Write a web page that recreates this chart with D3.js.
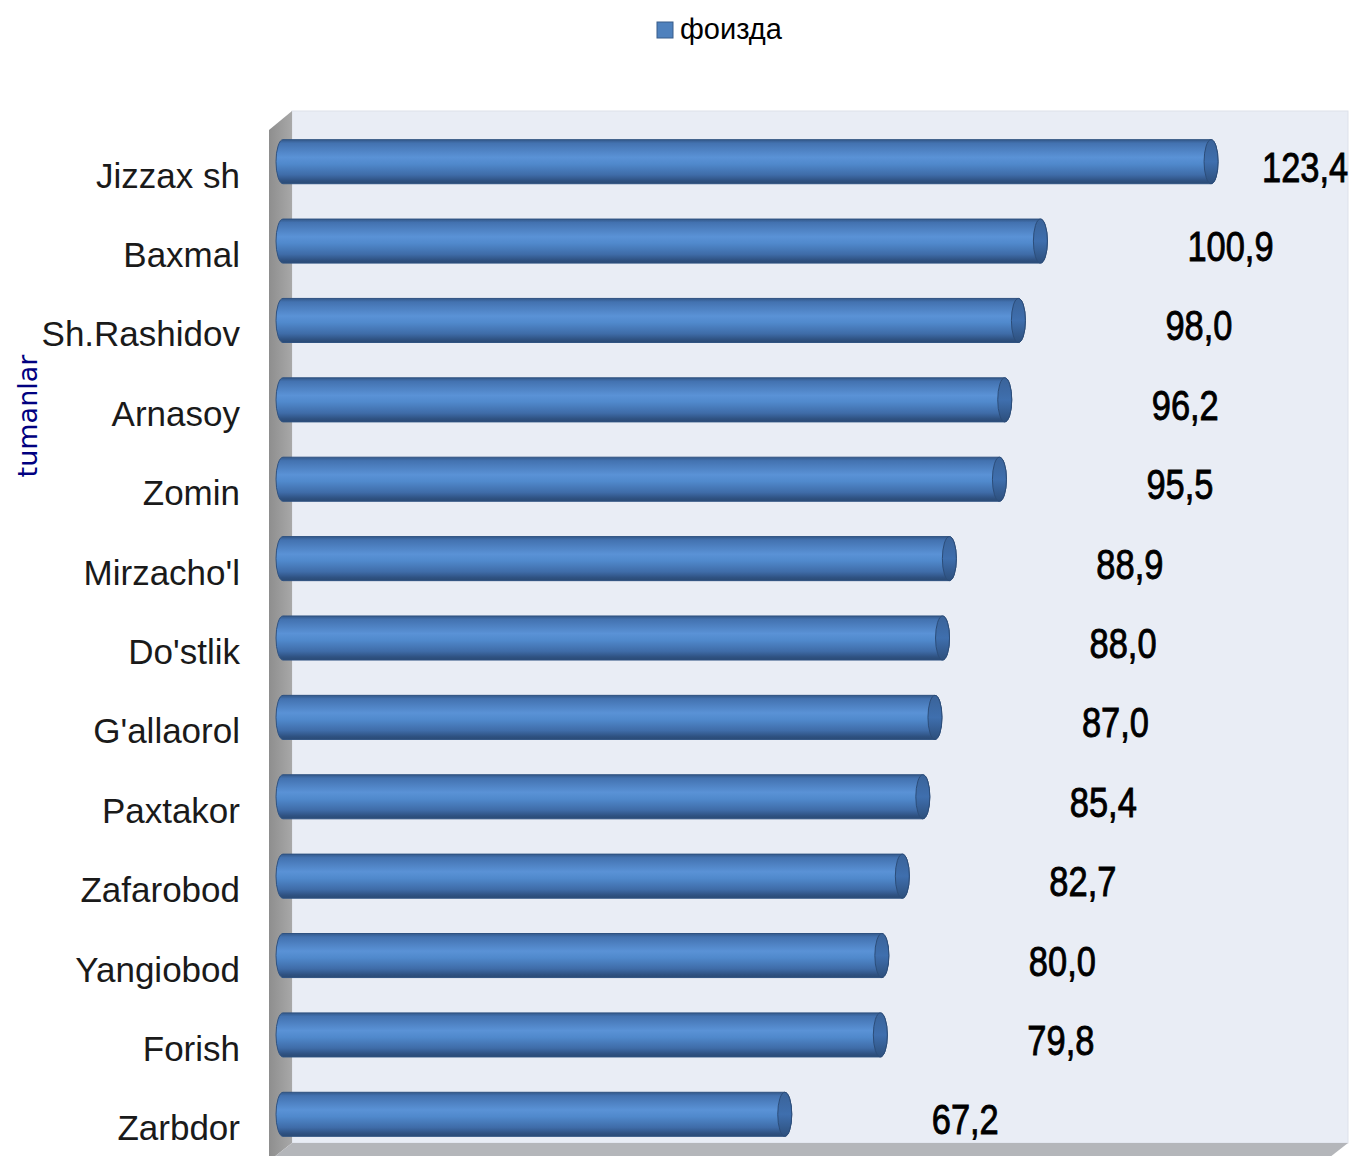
<!DOCTYPE html>
<html>
<head>
<meta charset="utf-8">
<script src="https://cdn.jsdelivr.net/npm/d3@7"></script>
<style>
  body { margin: 0; background: #fff; }
  svg { display: block; }
</style>
</head>
<body>
<div id="chart"></div>
<script>
const categories = ["Jizzax sh", "Baxmal", "Sh.Rashidov", "Arnasoy", "Zomin", "Mirzacho'l",
  "Do'stlik", "G'allaorol", "Paxtakor", "Zafarobod", "Yangiobod", "Forish", "Zarbdor"];
const values = [123.4, 100.9, 98.0, 96.2, 95.5, 88.9, 88.0, 87.0, 85.4, 82.7, 80.0, 79.8, 67.2];
const seriesName = "фоизда";
const axisTitle = "tumanlar";

const data = categories.map((c, i) => ({ name: c, value: values[i] }));

const width = 1353;
const height = 1156;

// wall geometry
const wall = { left: 292, right: 1348, top: 111, bottom: 1143, depth: 23, drop: 19 };

const x = d3.scaleLinear()
  .domain([0, 140])
  .range([282, 1344]);

const y = d3.scaleBand()
  .domain(categories)
  .range([122, 1154]);

const barH = y.bandwidth() * 0.555;
const capR = 7;

const svg = d3.select("#chart").append("svg")
  .attr("width", width)
  .attr("height", height)
  .attr("viewBox", [0, 0, width, height]);

const defs = svg.append("defs");

const barGrad = defs.append("linearGradient")
  .attr("id", "barGrad")
  .attr("x1", 0).attr("y1", 0).attr("x2", 0).attr("y2", 1);
[[0, "#34598a"], [0.08, "#4372b0"], [0.4, "#5a92d6"], [0.55, "#5089cc"], [0.8, "#3f6ca8"], [0.93, "#2f5282"], [1, "#2a4a74"]]
  .forEach(([o, c]) => barGrad.append("stop").attr("offset", o).attr("stop-color", c));

const capGrad = defs.append("linearGradient")
  .attr("id", "capGrad")
  .attr("x1", 0).attr("y1", 0).attr("x2", 0).attr("y2", 1);
[[0, "#3a6399"], [0.5, "#3f6fae"], [1, "#2d4f7c"]]
  .forEach(([o, c]) => capGrad.append("stop").attr("offset", o).attr("stop-color", c));

const sideGrad = defs.append("linearGradient")
  .attr("id", "sideGrad")
  .attr("x1", 0).attr("y1", 0).attr("x2", 1).attr("y2", 0);
[[0, "#8e8e8e"], [1, "#a8a8a8"]]
  .forEach(([o, c]) => sideGrad.append("stop").attr("offset", o).attr("stop-color", c));

// back wall
svg.append("rect")
  .attr("x", wall.left)
  .attr("y", wall.top)
  .attr("width", wall.right - wall.left)
  .attr("height", wall.bottom - wall.top)
  .attr("fill", "#e9edf5")
  .attr("stroke", "#dde1ea")
  .attr("stroke-width", 1);

// left side wall
svg.append("path")
  .attr("d", `M${wall.left - wall.depth},${wall.top + wall.drop} L${wall.left},${wall.top} L${wall.left},${wall.bottom} L${wall.left - wall.depth},${height + 5} Z`)
  .attr("fill", "url(#sideGrad)");

// floor
svg.append("path")
  .attr("d", `M${wall.left - wall.depth},${height + 5} L${wall.left},${wall.bottom} L${wall.right},${wall.bottom} L${wall.right - wall.depth},${height + 5} Z`)
  .attr("fill", "#b4b6ba");

// bars
const bars = svg.append("g")
  .selectAll("g")
  .data(data)
  .join("g")
  .attr("transform", d => `translate(0,${y(d.name) + y.bandwidth() / 2 - barH / 2})`);

bars.append("rect")
  .attr("x", x(0) - 6)
  .attr("y", 0)
  .attr("width", d => x(d.value) - x(0) + 6)
  .attr("height", barH)
  .attr("rx", capR)
  .attr("ry", barH / 2)
  .attr("fill", "url(#barGrad)")
  .attr("stroke", "#2f5281")
  .attr("stroke-width", 1);

bars.append("ellipse")
  .attr("cx", d => x(d.value) - capR)
  .attr("cy", barH / 2)
  .attr("rx", capR)
  .attr("ry", barH / 2)
  .attr("fill", "url(#capGrad)")
  .attr("stroke", "#2c4d79")
  .attr("stroke-width", 1);

// value labels
svg.append("g")
  .selectAll("text")
  .data(data)
  .join("text")
  .attr("transform", d => `translate(${Math.min(x(d.value) + 140, 1262)},${y(d.name) + y.bandwidth() / 2 + 20}) scale(0.82,1)`)
  .attr("font-family", "'Liberation Sans', Arial, sans-serif")
  .attr("font-size", 42)
  .attr("fill", "#000")
  .attr("stroke", "#000")
  .attr("stroke-width", 0.9)
  .text(d => d3.format(".1f")(d.value).replace(".", ","));

// category labels
svg.append("g")
  .selectAll("text")
  .data(categories)
  .join("text")
  .attr("x", 240)
  .attr("y", d => y(d) + y.bandwidth() / 2 + 26)
  .attr("text-anchor", "end")
  .attr("font-family", "'Liberation Sans', Arial, sans-serif")
  .attr("font-size", 35)
  .attr("fill", "#1a1a1a")
  .text(d => d);

// axis title
svg.append("text")
  .attr("transform", "translate(37,416) rotate(-90)")
  .attr("text-anchor", "middle")
  .attr("font-family", "'DejaVu Sans', sans-serif")
  .attr("font-size", 27)
  .attr("fill", "#000080")
  .text(axisTitle);

// legend
const legend = svg.append("g")
  .attr("transform", "translate(657,22)");

legend.append("rect")
  .attr("width", 16)
  .attr("height", 16)
  .attr("fill", "#4f81bd")
  .attr("stroke", "#385d8a");

legend.append("text")
  .attr("x", 23)
  .attr("y", 17)
  .attr("font-family", "'Liberation Sans', Arial, sans-serif")
  .attr("font-size", 29)
  .attr("fill", "#000")
  .text(seriesName);
</script>
</body>
</html>
